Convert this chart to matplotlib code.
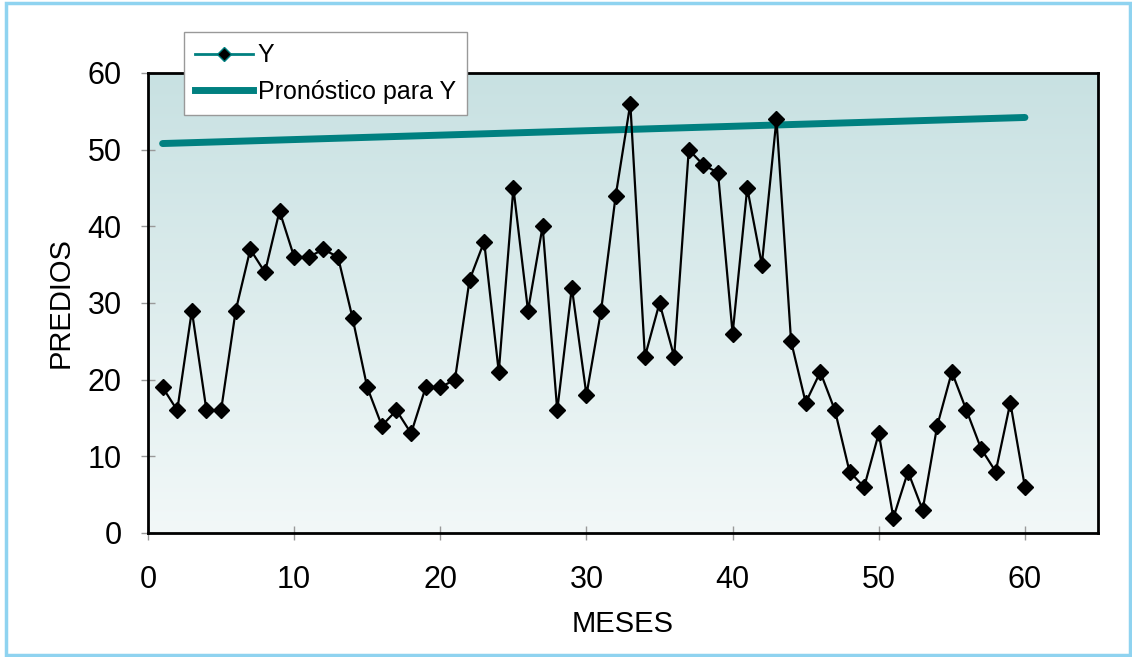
import matplotlib
matplotlib.use("Agg")
import matplotlib.pyplot as plt
import numpy as np
from matplotlib.patches import Rectangle
from matplotlib.lines import Line2D

months = list(range(1, 61))
y_values = [19, 16, 29, 16, 16, 29, 37, 34, 42, 36,
            36, 37, 36, 28, 19, 14, 16, 13, 19, 19,
            20, 33, 38, 21, 45, 29, 40, 16, 32, 18,
            29, 44, 56, 23, 30, 23, 50, 48, 47, 26,
            45, 35, 54, 25, 17, 21, 16, 8, 6, 13,
            2, 8, 3, 14, 21, 16, 11, 8, 17, 6]
trend_x = [1, 60]
trend_y = [50.8, 54.2]

xticks = [0, 10, 20, 30, 40, 50, 60]
yticks = [0, 10, 20, 30, 40, 50, 60]

plt.rcParams['font.family'] = ['Liberation Sans', 'DejaVu Sans']

W, H = 1132, 657
fig = plt.figure(figsize=(W / 100, H / 100), dpi=100)
fig.patch.set_facecolor('white')

# outer light-blue border
fig.patches.append(Rectangle((6 / W, 2 / H), (W - 8) / W, (H - 5) / H,
                             transform=fig.transFigure, fill=False,
                             edgecolor='#8fd3f0', linewidth=2.5, zorder=0))

left, right, top, bottom = 148, 1098, 73, 533
ax = fig.add_axes([left / W, 1 - bottom / H, (right - left) / W, (bottom - top) / H])

ax.set_xlim(0, 65)
ax.set_ylim(0, 60)

# gradient background
top_c = np.array([200, 225, 226]) / 255
bot_c = np.array([242, 248, 248]) / 255
t = np.linspace(0, 1, 256)[:, None]
grad = bot_c[None, None, :] * (1 - t[..., None]) + top_c[None, None, :] * t[..., None]
grad = np.repeat(grad, 2, axis=1)
ax.imshow(grad, extent=[0, 65, 0, 60], origin='lower', aspect='auto', zorder=0)

ax.plot(months, y_values, color='black', linewidth=1.6, marker='D',
        markersize=8, markerfacecolor='black', markeredgecolor='black',
        zorder=3)
ax.plot(trend_x, trend_y, color='#008080', linewidth=5, solid_capstyle='round',
        zorder=2)

for s in ax.spines.values():
    s.set_linewidth(2)
    s.set_color('black')

ax.set_xticks(xticks)
ax.set_yticks(yticks)
ax.tick_params(axis='both', direction='inout', length=10, width=1, color='#999999',
               labelsize=22)
ax.tick_params(axis='x', pad=18)
ax.tick_params(axis='y', pad=14)
ax.set_xlabel('MESES', fontsize=21, labelpad=11)
ax.set_ylabel('PREDIOS', fontsize=21, labelpad=9)

# legend
h1 = Line2D([], [], color='#008080', linewidth=2, marker='D', markersize=7,
            markerfacecolor='black', markeredgecolor='#008080')
h2 = Line2D([], [], color='#008080', linewidth=5)
leg = fig.legend([h1, h2], ['Y', 'Pronóstico para Y'],
                 loc='upper left', bbox_to_anchor=(184 / W, 1 - 32 / H),
                 fontsize=18, frameon=True, fancybox=False, framealpha=1,
                 edgecolor='#999999', handlelength=2.3, handletextpad=0.2,
                 borderpad=0.45, labelspacing=0.5, borderaxespad=0)
leg.get_frame().set_linewidth(1)
leg.set_zorder(10)

fig.savefig('out.png', dpi=100, facecolor='white')
